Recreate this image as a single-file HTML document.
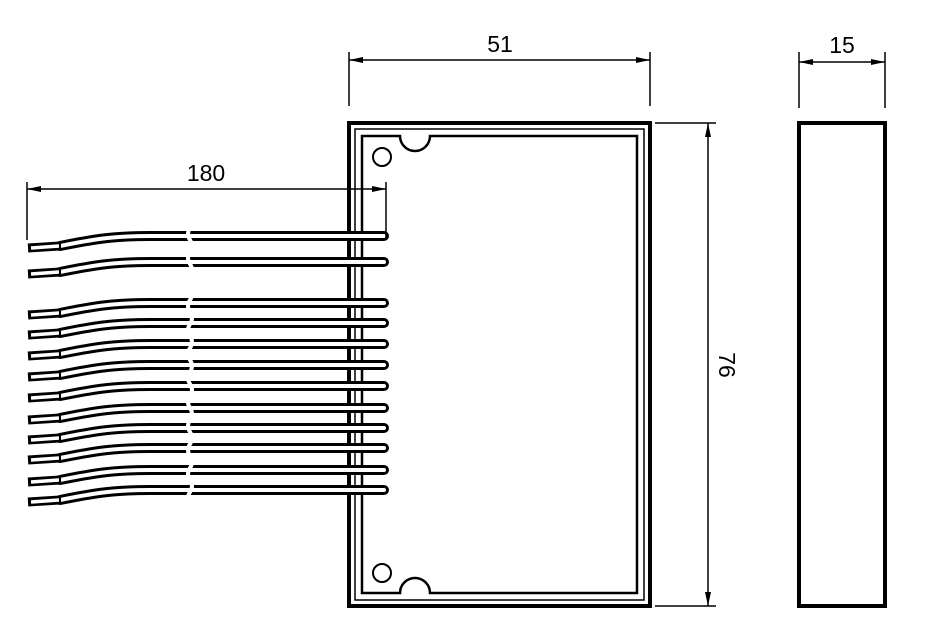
<!DOCTYPE html>
<html><head><style>html,body{margin:0;padding:0;background:#fff}svg{display:block}</style></head>
<body>
<svg width="945" height="638" viewBox="0 0 945 638" xmlns="http://www.w3.org/2000/svg">
<defs>
<marker id="a" markerWidth="14" markerHeight="6" refX="14" refY="3" orient="auto-start-reverse" markerUnits="userSpaceOnUse"><path d="M0,0 L14,3 L0,6 z" fill="#000"/></marker>
<g id="w">
<path d="M60,0 C90,-6 110,-10 150,-10 L384,-10" fill="none" stroke="#000" stroke-width="10" stroke-linecap="round"/>
<path d="M60,0 C90,-6 110,-10 150,-10 L384,-10" fill="none" stroke="#fff" stroke-width="4" stroke-linecap="round"/>
<path d="M28,2 L60,0" fill="none" stroke="#000" stroke-width="9"/>
<path d="M31,2 L59,0" fill="none" stroke="#fff" stroke-width="3.5"/>
<line x1="60" y1="-4" x2="60" y2="4" stroke="#000" stroke-width="2"/>
</g>
</defs>
<g fill="none" stroke="#000">
<rect x="349" y="123" width="301" height="483" stroke-width="4"/>
<rect x="355" y="129" width="289" height="471" stroke-width="1.5"/>
<path d="M362,136 L400,136 A15,15 0 0 0 430,136 L637,136 L637,593 L430,593 A15,15 0 0 0 400,593 L362,593 Z" stroke-width="2.5"/>
<circle cx="382" cy="157" r="9" stroke-width="2"/>
<circle cx="382" cy="573" r="9" stroke-width="2"/>
<rect x="799" y="123" width="86" height="483" stroke-width="4"/>
</g>
<g>
<use href="#w" y="246"/><use href="#w" y="272"/>
<use href="#w" y="313"/><use href="#w" y="333"/><use href="#w" y="354"/><use href="#w" y="375"/>
<use href="#w" y="396"/><use href="#w" y="418"/><use href="#w" y="438"/><use href="#w" y="458"/>
<use href="#w" y="480"/><use href="#w" y="500"/>
</g>
<path d="M190,228 q-4,6 0,12 q4,6 0,12 q-4,6 0,12 q4,6 0,12 q-4,6 0,12 q4,6 0,12 q-4,6 0,12 q4,6 0,12 q-4,6 0,12 q4,6 0,12 q-4,6 0,12 q4,6 0,12 q-4,6 0,12 q4,6 0,12 q-4,6 0,12 q4,6 0,12 q-4,6 0,12 q4,6 0,12 q-4,6 0,12 q4,6 0,12 q-4,6 0,12 q4,6 0,12 q-4,6 0,12 q4,6 0,12" fill="none" stroke="#fff" stroke-width="4"/>
<g stroke="#000" stroke-width="1.5" fill="none">
<line x1="349" y1="52" x2="349" y2="106"/><line x1="650" y1="52" x2="650" y2="106"/>
<line x1="349" y1="60" x2="650" y2="60" marker-start="url(#a)" marker-end="url(#a)"/>
<line x1="799" y1="52" x2="799" y2="108"/><line x1="885" y1="52" x2="885" y2="108"/>
<line x1="799" y1="62" x2="885" y2="62" marker-start="url(#a)" marker-end="url(#a)"/>
<line x1="655" y1="123" x2="716" y2="123"/><line x1="655" y1="606" x2="716" y2="606"/>
<line x1="708" y1="123" x2="708" y2="606" marker-start="url(#a)" marker-end="url(#a)"/>
<line x1="27" y1="182" x2="27" y2="240"/><line x1="386" y1="182" x2="386" y2="238"/>
<line x1="27" y1="189" x2="386" y2="189" marker-start="url(#a)" marker-end="url(#a)"/>
</g>
<g font-family="Liberation Sans, sans-serif" font-size="23" text-anchor="middle" fill="#000">
<text x="500" y="52">51</text>
<text x="842" y="53">15</text>
<text x="206" y="181">180</text>
<text x="0" y="0" transform="translate(719,365) rotate(90)">76</text>
</g>
</svg>
</body></html>
